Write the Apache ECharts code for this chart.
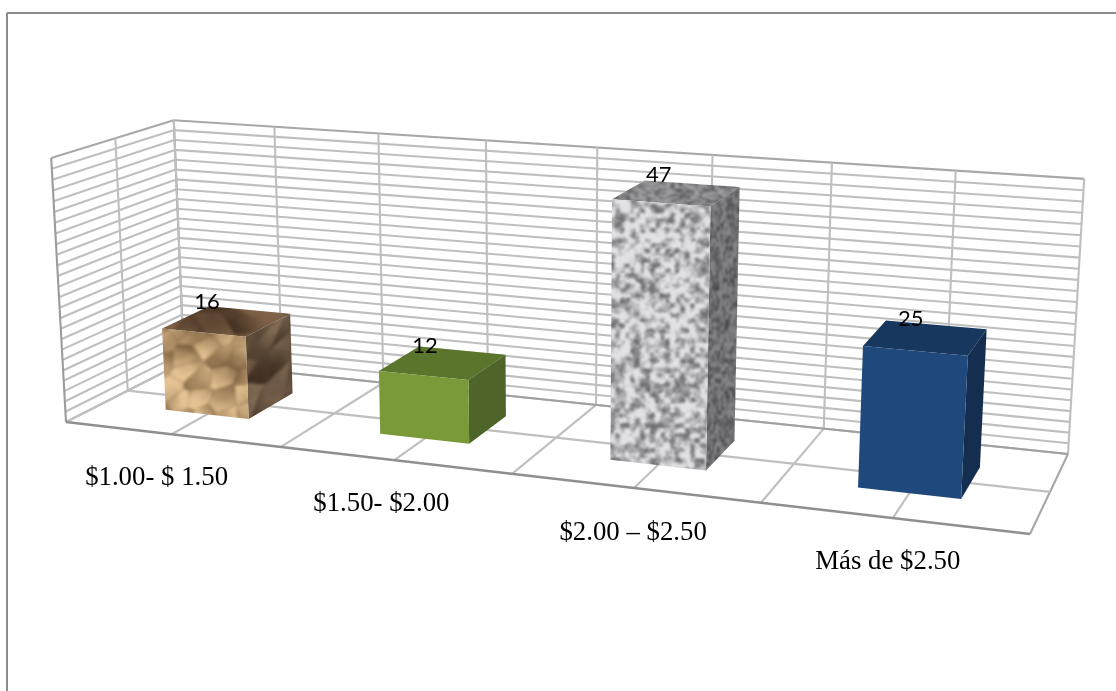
<!DOCTYPE html>
<html><head><meta charset="utf-8">
<style>html,body{margin:0;padding:0;background:#fff}#c{width:1116px;height:691px}</style>
<script src="https://cdn.jsdelivr.net/npm/echarts@6/dist/echarts.min.js"></script>
</head><body><div id="c"></div>
<script>
// ---- data ----
const categories = ['$1.00- $ 1.50', '$1.50- $2.00', '$2.00 – $2.50', 'Más de $2.50'];
const values = [16, 12, 47, 25];
const yTicks = [0,2,4,6,8,10,12,14,16,18,20,22,24,26,28,30,32,34,36,38,40,42,44,46,48,50];
const uDividers = [0,1,2,3,4,5,6,7,8];
const vDividers = [0,1,2];

// ---- layout of the projected box ----
const floorFL=[66,422], floorFR=[1030,534], floorBR=[1068,454], floorBL=[184,362];
const topBL=[175,120], topBR=[1084,179], topFL=[50,158];
const barWidth=0.395, barV0=0.30, barV1=0.71;
const labelShift=[[-20,-19],[-18,-17],[-18,-18],[-15,-19]];
const catShift=[[-15,6],[-13,6],[-1,7],[-5,6]];
const GRID_LINE='#bfbfbf', EDGE_LINE='#a8a8a8', FRONT_LINE='#8f8f8f';

// ---- projection ----
function solve(A,b){const n=b.length,M=A.map((r,i)=>r.concat([b[i]]));
 for(let i=0;i<n;i++){let p=i;for(let k=i+1;k<n;k++)if(Math.abs(M[k][i])>Math.abs(M[p][i]))p=k;
  [M[i],M[p]]=[M[p],M[i]];
  for(let k=0;k<n;k++){if(k===i)continue;const f=M[k][i]/M[i][i];for(let j=i;j<=n;j++)M[k][j]-=f*M[i][j];}}
 return M.map((r,i)=>r[n]/r[i]);}
const H=(function(){const pts=[[0,0,floorFL],[1,0,floorFR],[1,1,floorBR],[0,1,floorBL]],A=[],b=[];
 pts.forEach(([u,v,P])=>{A.push([u,v,1,0,0,0,-u*P[0],-v*P[0]]);b.push(P[0]);A.push([0,0,0,u,v,1,-u*P[1],-v*P[1]]);b.push(P[1]);});
 return solve(A,b);})();
const Z=(function(){const pts=[[0,1,topBL],[1,1,topBR],[0,0,topFL]],R=[];
 pts.forEach(([u,v,P])=>{const D=H[6]*u+H[7]*v+1;
  R.push([1,0,-P[0],P[0]*D-(H[0]*u+H[1]*v+H[2])]);
  R.push([0,1,-P[1],P[1]*D-(H[3]*u+H[4]*v+H[5])]);});
 const A=[[0,0,0],[0,0,0],[0,0,0]],b=[0,0,0];
 R.forEach(r=>{for(let i=0;i<3;i++){b[i]+=r[i]*r[3];for(let j=0;j<3;j++)A[i][j]+=r[i]*r[j];}});
 return solve(A,b);})();
function proj(u,v,w){const D=H[6]*u+H[7]*v+1+Z[2]*w;
 return [(H[0]*u+H[1]*v+H[2]+Z[0]*w)/D,(H[3]*u+H[4]*v+H[5]+Z[1]*w)/D];}

// ---- procedural surface textures (seeded, never touches the data) ----
function hash(x,y,s){let h=(x*374761393+y*668265263+s*1274126177)|0;h=Math.imul(h^(h>>>13),1274126177);return ((h^(h>>>16))>>>0)/4294967295;}
function noise(x,y,s,per){const xi=Math.floor(x),yi=Math.floor(y),fx=x-xi,fy=y-yi,
 a=fx*fx*(3-2*fx),c=fy*fy*(3-2*fy),w=i=>((i%per)+per)%per,
 n=(i,j)=>hash(w(i),w(j),s);
 return (n(xi,yi)*(1-a)+n(xi+1,yi)*a)*(1-c)+(n(xi,yi+1)*(1-a)+n(xi+1,yi+1)*a)*c;}
function makeTex(size,blur,fn){const cv=document.createElement('canvas');cv.width=cv.height=size;
 const g=cv.getContext('2d'),im=g.createImageData(size,size);
 for(let y=0;y<size;y++)for(let x=0;x<size;x++){const c=fn(x,y),k=(y*size+x)*4;
  im.data[k]=c[0];im.data[k+1]=c[1];im.data[k+2]=c[2];im.data[k+3]=255;}
 g.putImageData(im,0,0);
 const out=document.createElement('canvas');out.width=out.height=size;
 const o=out.getContext('2d');o.drawImage(cv,0,0);o.filter='blur('+blur+'px)';o.drawImage(cv,0,0);return out;}
function lerpC(a,b,t){t=Math.max(0,Math.min(1,t));return [a[0]+(b[0]-a[0])*t,a[1]+(b[1]-a[1])*t,a[2]+(b[2]-a[2])*t];}
function granite(cell,sx,sy,base,dark,s){const size=512,per=Math.round(size/cell);
 return makeTex(size,.9,(x,y)=>{const X=x/cell,Y=y/cell;
  const n=noise(X*sx,Y*sy,s,9999)*.68+noise(X*2.3*sx,Y*2.3*sy,s+1,9999)*.32;
  return lerpC(dark,base,(n-.2)/.46);});}
// crumpled sheet: skewed flat facets around seeded points, with soft creases where they meet
function crumple(cells,sx,sy,skew,light,dark,s){const size=512,cw=size/cells,seeds=[];
 for(let j=0;j<cells;j++)for(let i=0;i<cells;i++){
  const a=hash(i,j,s+3)*6.283;
  seeds.push({x:(i+.1+.8*hash(i,j,s))*cw,y:(j+.1+.8*hash(i,j,s+1))*cw,b:.3+.5*hash(i,j,s+2),dx:Math.cos(a),dy:Math.sin(a)});}
 return makeTex(size,1.6,(x,y)=>{let d1=1e9,d2=1e9,n=null;
  for(let k=0;k<seeds.length;k++){const p=seeds[k],ddx=x-p.x,ddy=y-p.y,ex=(ddx+skew*ddy)*sx,ey=(ddy-skew*ddx*.4)*sy,d=Math.sqrt(ex*ex+ey*ey);
   if(d<d1){d2=d1;d1=d;n=p;}else if(d<d2){d2=d;}}
  const slope=((x-n.x)*n.dx+(y-n.y)*n.dy)/cw*.42,cr=Math.min(1,(d2-d1)/4);
  const lf=noise(x/46,y/46,s+7,9999)-.5,hf=noise(x/7,y/7,s+8,9999)-.5;
  return lerpC(dark,light,(n.b+slope+lf*.75+hf*.14)*(.74+.26*cr));});}
const texPaper={front:crumple(24,1,1,.7,[228,194,146],[104,76,46],11),
 top:crumple(20,1,2.4,.5,[136,106,78],[70,50,34],23),side:crumple(20,2.6,1,.9,[128,106,84],[64,48,34],37)};
const texStone={front:granite(5,1,1,[226,226,228],[112,112,116],5),
 top:granite(4,1,2.2,[158,158,160],[92,92,94],9),side:granite(4,2.4,1,[134,134,136],[70,70,72],13)};
function pat(c){return {image:c,repeat:'repeat'};}
const barFaces=[
 {front:pat(texPaper.front),top:pat(texPaper.top),side:pat(texPaper.side)},
 {front:'#7a9a3a',top:'#5b752d',side:'#4e6428'},
 {front:pat(texStone.front),top:pat(texStone.top),side:pat(texStone.side)},
 {front:'#1f487c',top:'#17375e',side:'#152e4f'}];

// ---- render items ----
const el=document.getElementById('c');
const chart=echarts.init(el,null,{renderer:'canvas'});
function wOf(api,val){const H0=api.getHeight();return (H0-api.coord([0,val])[1])/H0;}
function seg(a,b,color,width){return {type:'line',shape:{x1:a[0],y1:a[1],x2:b[0],y2:b[1]},style:{stroke:color,lineWidth:width||2.1},silent:true};}
function renderY(p,api){const w=wOf(api,api.value(0));
 const edge=w===1;
 return {type:'group',children:[seg(proj(0,0,w),proj(0,1,w),edge?EDGE_LINE:GRID_LINE),seg(proj(0,1,w),proj(1,1,w),edge?EDGE_LINE:GRID_LINE)]};}
function renderU(p,api){const u=api.value(0)/8;
 return {type:'group',children:[seg(proj(u,1,0),proj(u,1,1),u===0?'#9c9c9c':GRID_LINE),
  seg(proj(u,0,0),proj(u,1,0),u===1?EDGE_LINE:GRID_LINE)]};}
function renderV(p,api){const v=api.value(0)/2,kids=[];
 kids.push(seg(proj(0,v,0),proj(0,v,1),v===0?'#9c9c9c':GRID_LINE));
 kids.push(seg(proj(0,v,0),proj(1,v,0),v===0?FRONT_LINE:(v===1?'#a0a0a0':GRID_LINE),v===0?2.6:2.1));
 return {type:'group',children:kids};}
function poly(pts,fill){return {type:'polygon',shape:{points:pts},style:{fill:fill,stroke:null},silent:true};}
function renderBar(p,api){const i=api.value(0),w=wOf(api,api.value(1));
 const uc=(i+.5)/4,half=barWidth/8,u0=uc-half,u1=uc+half,f=barFaces[i];
 const A=proj(u0,barV0,0),B=proj(u1,barV0,0),C=proj(u1,barV1,0),
  A1=proj(u0,barV0,w),B1=proj(u1,barV0,w),C1=proj(u1,barV1,w),D1=proj(u0,barV1,w);
 return {type:'group',children:[poly([A1,B1,C1,D1],f.top),poly([B,C,C1,B1],f.side),poly([A,B,B1,A1],f.front)]};}
function renderValueLabel(p,api){const i=api.value(0),val=api.value(1),w=wOf(api,val),uc=(i+.5)/4;
 const P=proj(uc,(barV0+barV1)/2,w),s=labelShift[i];
 return {type:'text',silent:true,style:{text:String(val),x:P[0]+s[0],y:P[1]+s[1],fill:'#000',font:'22px Lato',textAlign:'center',textVerticalAlign:'middle',verticalAlign:'middle'}};}
function renderCat(p,api){const i=api.value(0),P=proj((i+.5)/4,0,0),s=catShift[i];
 return {type:'text',silent:true,style:{text:categories[i],x:P[0]+s[0],y:P[1]+s[1]+38,fill:'#000',font:'26.8px "Liberation Serif"',textAlign:'center',textVerticalAlign:'middle',verticalAlign:'middle'}};}
function lineSeries(data,fn,z){return {type:'custom',data:data.map(d=>[d]),renderItem:fn,coordinateSystem:'cartesian2d',encode:{x:-1,y:-1},clip:false,z:z,silent:true,animation:false};}
const barData=values.map((v,i)=>[i,v]);
chart.setOption({
 animation:false,backgroundColor:'#fff',
 grid:{left:0,right:0,top:0,bottom:0},
 xAxis:{type:'category',data:categories,show:false},
 yAxis:{type:'value',min:0,max:50,interval:2,show:false},
 graphic:[
  {type:'line',shape:{x1:7,y1:13,x2:1116,y2:13},style:{stroke:'#8c8c8c',lineWidth:2},silent:true},
  {type:'line',shape:{x1:7,y1:13,x2:7,y2:691},style:{stroke:'#8c8c8c',lineWidth:2},silent:true}
 ],
 series:[
  lineSeries(yTicks,renderY,1),lineSeries(uDividers,renderU,1),lineSeries(vDividers,renderV,1),
  {type:'custom',data:barData,renderItem:renderBar,encode:{x:0,y:1},clip:false,z:2,silent:true,animation:false},
  {type:'custom',data:barData,renderItem:renderValueLabel,encode:{x:0,y:1},clip:false,z:3,silent:true,animation:false},
  {type:'custom',data:barData,renderItem:renderCat,encode:{x:0,y:1},clip:false,z:3,silent:true,animation:false}
 ]});
</script></body></html>
